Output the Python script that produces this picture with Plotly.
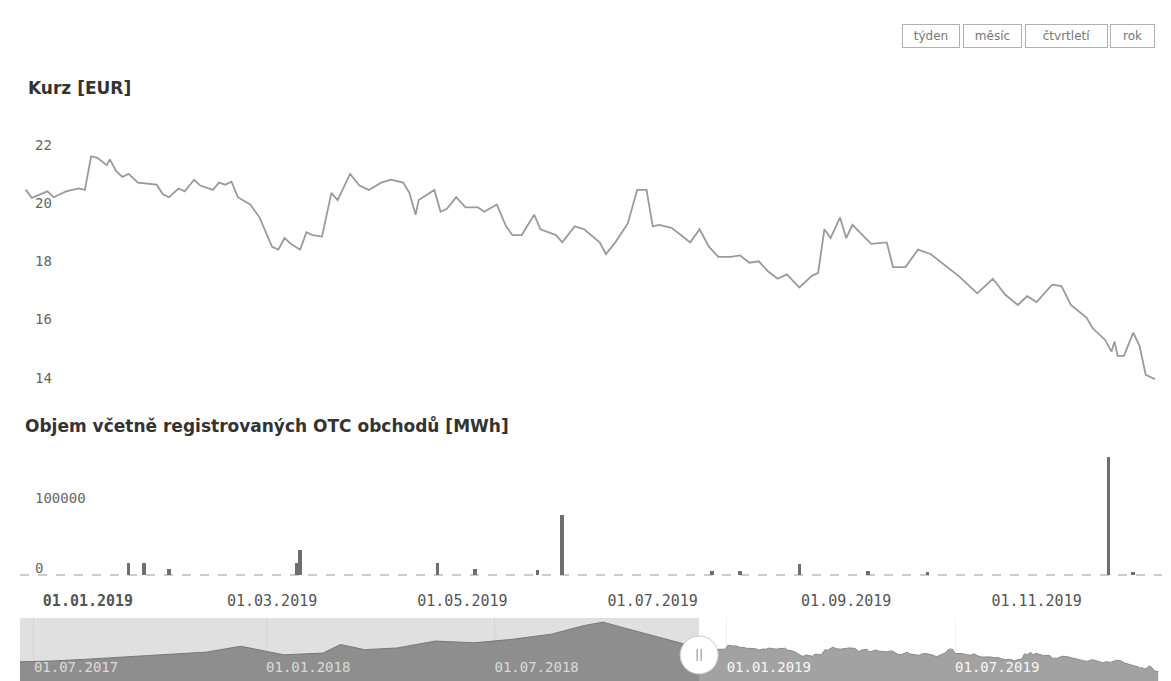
import plotly.graph_objects as go

W, H = 1171, 681

# Kurz [EUR] - daily price
price_dates = [
    "2018-12-12", "2018-12-14", "2018-12-19", "2018-12-21", "2018-12-25", "2018-12-29", "2018-12-31",
    "2019-01-02", "2019-01-04", "2019-01-07", "2019-01-08", "2019-01-10", "2019-01-12", "2019-01-14",
    "2019-01-17", "2019-01-23", "2019-01-25", "2019-01-27", "2019-01-30",
    "2019-02-01", "2019-02-04", "2019-02-06", "2019-02-10", "2019-02-12", "2019-02-14", "2019-02-16",
    "2019-02-18", "2019-02-22", "2019-02-25", "2019-02-27",
    "2019-03-01", "2019-03-03", "2019-03-05", "2019-03-07", "2019-03-10", "2019-03-12", "2019-03-14",
    "2019-03-17", "2019-03-20", "2019-03-22", "2019-03-26", "2019-03-29",
    "2019-04-01", "2019-04-05", "2019-04-08", "2019-04-12", "2019-04-14", "2019-04-16", "2019-04-17",
    "2019-04-22", "2019-04-24", "2019-04-26", "2019-04-29",
    "2019-05-02", "2019-05-06", "2019-05-08", "2019-05-12", "2019-05-15", "2019-05-17", "2019-05-20",
    "2019-05-24", "2019-05-26", "2019-05-31",
    "2019-06-02", "2019-06-06", "2019-06-09", "2019-06-14", "2019-06-16", "2019-06-19", "2019-06-23",
    "2019-06-26", "2019-06-29",
    "2019-07-01", "2019-07-03", "2019-07-07", "2019-07-10", "2019-07-13", "2019-07-16", "2019-07-19",
    "2019-07-22", "2019-07-26", "2019-07-29",
    "2019-08-01", "2019-08-04", "2019-08-07", "2019-08-10", "2019-08-13", "2019-08-17", "2019-08-21",
    "2019-08-23", "2019-08-25", "2019-08-27", "2019-08-30",
    "2019-09-01", "2019-09-03", "2019-09-09", "2019-09-14", "2019-09-16", "2019-09-20", "2019-09-24",
    "2019-09-28",
    "2019-10-07", "2019-10-13", "2019-10-18", "2019-10-22", "2019-10-26", "2019-10-29",
    "2019-11-01", "2019-11-06", "2019-11-09", "2019-11-12", "2019-11-17", "2019-11-19", "2019-11-23",
    "2019-11-25", "2019-11-26", "2019-11-27", "2019-11-29",
    "2019-12-02", "2019-12-04", "2019-12-06", "2019-12-09",
]
price_values = [
    20.66, 20.38, 20.6, 20.4, 20.6, 20.7, 20.65,
    21.8, 21.75, 21.5, 21.7, 21.3, 21.1, 21.2, 20.9, 20.83, 20.5, 20.4, 20.7,
    20.6, 21.0, 20.8, 20.65, 20.9, 20.83, 20.93, 20.4, 20.15, 19.7, 19.2,
    18.7, 18.6, 19.0, 18.8, 18.6, 19.2, 19.1, 19.05, 20.55, 20.3, 21.2, 20.8,
    20.65, 20.9, 21.0, 20.9, 20.55, 19.8, 20.3, 20.65, 19.9, 20.0, 20.4,
    20.05, 20.05, 19.9, 20.15, 19.4, 19.1, 19.1, 19.8, 19.3, 19.1,
    18.85, 19.4, 19.3, 18.85, 18.45, 18.85, 19.5, 20.65, 20.65,
    19.4, 19.45, 19.35, 19.1, 18.85, 19.3, 18.7, 18.35, 18.35, 18.4,
    18.15, 18.2, 17.85, 17.6, 17.75, 17.3, 17.7, 17.8, 19.3, 19.0, 19.7,
    19.0, 19.45, 18.8, 18.85, 18.0, 18.0, 18.6, 18.45,
    17.7, 17.1, 17.6, 17.05, 16.7, 17.0,
    16.8, 17.4, 17.35, 16.7, 16.27, 15.9, 15.5, 15.1, 15.45, 14.95, 14.95,
    15.75, 15.3, 14.3, 14.15,
]

# Objem vcetne OTC [MWh]
vol_dates = ["2019-01-14", "2019-01-19", "2019-01-27", "2019-03-09", "2019-03-10", "2019-04-23",
             "2019-05-05", "2019-05-25", "2019-06-02", "2019-07-20", "2019-07-29", "2019-08-17",
             "2019-09-08", "2019-09-27", "2019-11-24", "2019-12-02"]
vol_values = [17600, 17600, 8000, 16700, 35000, 16700, 8000, 6700, 85000, 5700, 5700, 15200,
              5000, 4800, 168000, 4800]

# longer history shown only in the navigator (rough reading)
hist_dates = ["2017-06-20", "2017-07-15", "2017-08-15", "2017-09-15", "2017-10-15", "2017-11-15",
              "2017-12-12", "2018-01-15", "2018-02-15", "2018-03-01", "2018-03-20", "2018-04-15",
              "2018-05-15", "2018-06-15", "2018-07-15", "2018-08-15", "2018-09-10", "2018-09-25",
              "2018-10-15", "2018-11-15", "2018-12-05"]
hist_values = [17.0, 17.2, 17.8, 18.5, 19.0, 19.8, 21.5, 19.0, 19.5, 22.0, 20.5, 21.0,
               23.0, 22.5, 23.5, 25.0, 27.5, 28.5, 26.5, 23.5, 21.5]

tick_dates = ["2019-01-01", "2019-03-01", "2019-05-01", "2019-07-01", "2019-09-01", "2019-11-01"]
tick_text = ["<b>01.01.2019</b>", "01.03.2019", "01.05.2019", "01.07.2019", "01.09.2019", "01.11.2019"]

buttons = ["týden", "měsíc", "čtvrtletí", "rok"]

view_range = ["2018-12-10 05:00", "2019-12-11 05:00"]
nav_range = ["2017-06-20", "2019-12-12"]


def px_x(p):
    return p / W


def px_y(p):
    return 1 - p / H


mono = "DejaVu Sans Mono"
xdom = [px_x(20), px_x(1162)]

fig = go.Figure()

# price line
fig.add_trace(go.Scatter(
    x=price_dates, y=price_values, mode="lines",
    line=dict(color="#9a9a9a", width=1.8),
    xaxis="x", yaxis="y", showlegend=False
))

# volume bars
fig.add_trace(go.Bar(
    x=vol_dates, y=vol_values, width=100000000,
    marker=dict(color="#6e6e6e", line=dict(width=0)),
    xaxis="x2", yaxis="y2", showlegend=False
))

# navigator area
fig.add_trace(go.Scatter(
    x=hist_dates + price_dates, y=hist_values + price_values, mode="lines",
    line=dict(color="#8a8a8a", width=1), fill="tozeroy", fillcolor="#a2a2a2",
    xaxis="x3", yaxis="y3", showlegend=False
))

fig.update_layout(
    width=W, height=H,
    margin=dict(l=0, r=0, t=0, b=0),
    paper_bgcolor="white", plot_bgcolor="white",
    bargap=0,
    xaxis=dict(domain=xdom, range=view_range, type="date", showticklabels=False,
               showgrid=False, zeroline=False, showline=False, anchor="y"),
    yaxis=dict(domain=[px_y(388), px_y(104)], range=[13.85, 23.6], dtick=2, tick0=14,
               ticklabelposition="inside top", ticklabelstandoff=12, ticklabelshift=4,
               showgrid=False, zeroline=False, showline=False,
               tickfont=dict(family=mono, size=14, color="#666"), anchor="x"),
    xaxis2=dict(domain=xdom, range=view_range, type="date", tickvals=tick_dates,
                ticktext=tick_text, showgrid=False, zeroline=False, showline=False,
                ticks="", ticklabelstandoff=9,
                tickfont=dict(family=mono, size=15, color="#555"), anchor="y2"),
    yaxis2=dict(domain=[px_y(581), px_y(445)], range=[-8600, 185700], tickvals=[0, 100000],
                tickformat="d",
                ticklabelposition="inside top", ticklabelstandoff=12, ticklabelshift=3,
                showgrid=False, zeroline=False, showline=False,
                tickfont=dict(family=mono, size=14, color="#666"), anchor="x2"),
    xaxis3=dict(domain=xdom, range=nav_range, type="date", dtick="M6", tick0="2017-07-01",
                tickformat="%d.%m.%Y", ticklabelposition="inside right", ticks="",
                showgrid=True, gridcolor="#f2f2f2", gridwidth=1, zeroline=False, showline=False,
                tickfont=dict(family=mono, size=14, color="#f8f8f8"), anchor="y3"),
    yaxis3=dict(domain=[0, px_y(618)], range=[11.4, 29.7], showticklabels=False,
                showgrid=False, zeroline=False, showline=False, anchor="x3"),
)

# pane titles
fig.add_annotation(text="<b>Kurz [EUR]</b>", xref="paper", yref="paper",
                   x=px_x(26), y=px_y(88), xanchor="left", yanchor="middle", showarrow=False,
                   font=dict(family="DejaVu Sans", size=17, color="#333"))
fig.add_annotation(text="<b>Objem včetně registrovaných OTC obchodů [MWh]</b>", xref="paper", yref="paper",
                   x=px_x(23), y=px_y(425), xanchor="left", yanchor="middle", showarrow=False,
                   font=dict(family="DejaVu Sans", size=17, color="#333"))

# range buttons
btn_centers = [931, 992.5, 1066.5, 1132.5]
btn_widths = [56, 57, 81, 43]
for label, cx, bw in zip(buttons, btn_centers, btn_widths):
    fig.add_annotation(text=label, xref="paper", yref="paper", x=px_x(cx), y=px_y(36),
                       xanchor="center", yanchor="middle", showarrow=False,
                       width=bw, height=22, borderpad=0, bordercolor="#b0b0b0", borderwidth=1,
                       bgcolor="white", font=dict(family="DejaVu Sans", size=12, color="#777"))

# dashed baseline of the volume pane
fig.add_shape(type="line", xref="x2 domain", yref="y2", x0=0, x1=1, y0=0, y1=0,
              line=dict(color="#9a9a9a", width=1.2, dash="dash"), layer="below")

# navigator mask left of the selected range
fig.add_shape(type="rect", xref="x3", yref="paper", x0=nav_range[0], x1=view_range[0],
              y0=0, y1=px_y(618), fillcolor="rgba(0,0,0,0.12)", line=dict(width=0), layer="above")

# navigator handle
fig.add_shape(type="circle", xref="x3", yref="paper", xsizemode="pixel", ysizemode="pixel",
              xanchor=view_range[0], yanchor=px_y(655), x0=-19, x1=19, y0=-19, y1=19,
              fillcolor="white", line=dict(color="#c8c8c8", width=1), layer="above")
for dx in [-2, 2]:
    fig.add_shape(type="line", xref="x3", yref="paper", xsizemode="pixel", ysizemode="pixel",
                  xanchor=view_range[0], yanchor=px_y(655), x0=dx, x1=dx, y0=-6, y1=6,
                  line=dict(color="#888", width=1), layer="above")

# the page has a default body margin; drop it so the figure sits at (0, 0)
fig.write_html("out.html", config={"displayModeBar": False},
               post_script="document.body.style.margin='0';")
